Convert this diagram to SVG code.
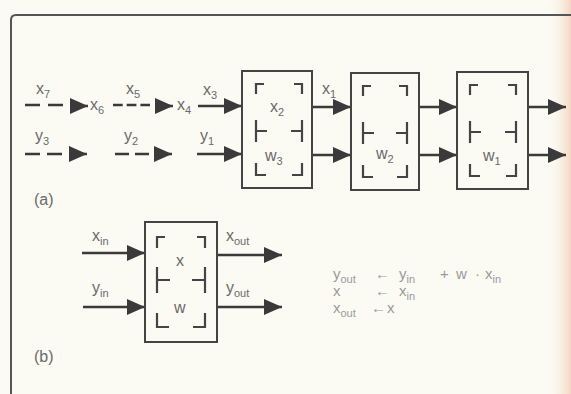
<svg xmlns="http://www.w3.org/2000/svg" width="571" height="394" viewBox="0 0 571 394">
<style>
.ln{stroke:#3a3a3a;stroke-width:2.5;fill:none}
.dl{stroke:#3a3a3a;stroke-width:2.5;fill:none}
.bx{stroke:#444;stroke-width:2;fill:none}
.br{stroke:#444;stroke-width:2.2;fill:none}
.lb{font-family:"Liberation Sans",Arial,sans-serif;font-size:16px;fill:#6a6a6a}
.eq{font-family:"Liberation Sans",Arial,sans-serif;font-size:15px;fill:#9a9a9a}
.sb{font-size:11px}
.fr{stroke:#555;stroke-width:2;fill:none}
</style>
<defs>
<marker id="ah" markerUnits="userSpaceOnUse" viewBox="0 0 18 16" refX="18" refY="8" markerWidth="18" markerHeight="16" orient="auto">
<path d="M0,0 L18,8 L0,16 Z" fill="#3a3a3a"/>
</marker>
<linearGradient id="edge" x1="0" y1="0" x2="1" y2="0">
<stop offset="0" stop-color="#fbf9f1" stop-opacity="0"/>
<stop offset="1" stop-color="#f4d6c0"/>
</linearGradient>
</defs>
<rect width="571" height="394" fill="#fbfaf3"/>
<rect x="548" y="0" width="23" height="394" fill="url(#edge)"/>
<path class="fr" d="M11,394 V20 Q11,15 16,15 H571"/>

<g id="connectors">
<!-- (a) upper row -->
<line class="dl" x1="25" y1="105" x2="63" y2="105" stroke-dasharray="15 8"/>
<line class="ln" x1="70" y1="106" x2="88" y2="106" marker-end="url(#ah)"/>
<line class="dl" x1="113" y1="105" x2="150" y2="105" stroke-dasharray="9.7 4"/>
<line class="ln" x1="155" y1="106" x2="173" y2="106" marker-end="url(#ah)"/>
<line class="ln" x1="198" y1="106" x2="242" y2="106" marker-end="url(#ah)"/>
<line class="ln" x1="312" y1="107" x2="351" y2="107" marker-end="url(#ah)"/>
<line class="ln" x1="419" y1="107" x2="457" y2="107" marker-end="url(#ah)"/>
<line class="ln" x1="528" y1="107" x2="566" y2="107" marker-end="url(#ah)"/>
<!-- (a) lower row -->
<line class="dl" x1="25" y1="154" x2="62" y2="154" stroke-dasharray="15 7"/>
<line class="ln" x1="69" y1="154" x2="87" y2="154" marker-end="url(#ah)"/>
<line class="dl" x1="115" y1="154" x2="149" y2="154" stroke-dasharray="14 6"/>
<line class="ln" x1="154" y1="154" x2="172" y2="154" marker-end="url(#ah)"/>
<line class="ln" x1="197" y1="154" x2="242" y2="154" marker-end="url(#ah)"/>
<line class="ln" x1="312" y1="155" x2="351" y2="155" marker-end="url(#ah)"/>
<line class="ln" x1="419" y1="155" x2="457" y2="155" marker-end="url(#ah)"/>
<line class="ln" x1="528" y1="155" x2="566" y2="155" marker-end="url(#ah)"/>
<!-- (b) -->
<line class="ln" x1="82" y1="253" x2="145" y2="253" marker-end="url(#ah)"/>
<line class="ln" x1="83" y1="307" x2="145" y2="307" marker-end="url(#ah)"/>
<line class="ln" x1="217" y1="255" x2="282" y2="255" marker-end="url(#ah)"/>
<line class="ln" x1="217" y1="307" x2="282" y2="307" marker-end="url(#ah)"/>
</g>

<g id="labels-a">
<text class="lb" x="36" y="94">x<tspan class="sb" dy="4">7</tspan></text>
<text class="lb" x="90" y="110">x<tspan class="sb" dy="4">6</tspan></text>
<text class="lb" x="126" y="94">x<tspan class="sb" dy="4">5</tspan></text>
<text class="lb" x="177" y="110">x<tspan class="sb" dy="4">4</tspan></text>
<text class="lb" x="203" y="95">x<tspan class="sb" dy="4">3</tspan></text>
<text class="lb" x="35" y="141">y<tspan class="sb" dy="4">3</tspan></text>
<text class="lb" x="124" y="141">y<tspan class="sb" dy="4">2</tspan></text>
<text class="lb" x="200" y="141">y<tspan class="sb" dy="4">1</tspan></text>
<text class="lb" x="322" y="94">x<tspan class="sb" dy="4">1</tspan></text>
<text class="lb" x="34" y="205">(a)</text>
</g>

<g id="node-a1">
<rect class="bx" x="242" y="71" width="70" height="117"/>
<path class="br" d="M264,84 H256 V94 M294,84 H302 V94 M256,120 V142 M256,131 H267 M302,120 V142 M302,131 H291 M256,163 V175 H266 M302,163 V175 H292"/>
<text class="lb" x="270" y="112">x<tspan class="sb" dy="4">2</tspan></text>
<text class="lb" x="265" y="161">w<tspan class="sb" dy="4">3</tspan></text>
</g>

<g id="node-a2">
<rect class="bx" x="351" y="73" width="68" height="117"/>
<path class="br" d="M371,86 H363 V96 M399,86 H407 V96 M363,122 V144 M363,133 H374 M407,122 V144 M407,133 H396 M363,165 V177 H373 M407,165 V177 H397"/>
<text class="lb" x="376" y="159">w<tspan class="sb" dy="4">2</tspan></text>
</g>

<g id="node-a3">
<rect class="bx" x="457" y="72" width="71" height="117"/>
<path class="br" d="M478,85 H470 V95 M508,85 H516 V95 M470,121 V143 M470,132 H481 M516,121 V143 M516,132 H505 M470,164 V176 H480 M516,164 V176 H506"/>
<text class="lb" x="483" y="161">w<tspan class="sb" dy="4">1</tspan></text>
</g>

<g id="node-b">
<rect class="bx" x="145" y="222" width="72" height="120"/>
<path class="br" d="M165,237 H157 V248 M197,237 H205 V248 M157,267 V293 M157,280 H170 M205,267 V293 M205,280 H192 M157,313 V327 H169 M205,313 V327 H193"/>
<text class="lb" x="176" y="266">x</text>
<text class="lb" x="174" y="313">w</text>
</g>

<g id="labels-b">
<text class="lb" x="92" y="241">x<tspan class="sb" dy="4">in</tspan></text>
<text class="lb" x="92" y="293">y<tspan class="sb" dy="4">in</tspan></text>
<text class="lb" x="226" y="241">x<tspan class="sb" dy="4">out</tspan></text>
<text class="lb" x="226" y="293">y<tspan class="sb" dy="4">out</tspan></text>
<text class="lb" x="34" y="362">(b)</text>
</g>

<g id="equations">
<text class="eq" x="333" y="279">y<tspan class="sb" dy="4">out</tspan></text>
<text class="eq" x="375" y="279" font-size="17">←</text>
<text class="eq" x="399" y="279">y<tspan class="sb" dy="4">in</tspan></text>
<text class="eq" x="440" y="279">+</text>
<text class="eq" x="456" y="279">w</text>
<text class="eq" x="475" y="279">·</text>
<text class="eq" x="485" y="279">x<tspan class="sb" dy="4">in</tspan></text>
<text class="eq" x="333" y="296">x</text>
<text class="eq" x="375" y="296" font-size="17">←</text>
<text class="eq" x="399" y="296">x<tspan class="sb" dy="4">in</tspan></text>
<text class="eq" x="333" y="313">x<tspan class="sb" dy="4">out</tspan></text>
<text class="eq" x="371" y="313" font-size="17">←</text>
<text class="eq" x="387" y="313">x</text>
</g>
</svg>
